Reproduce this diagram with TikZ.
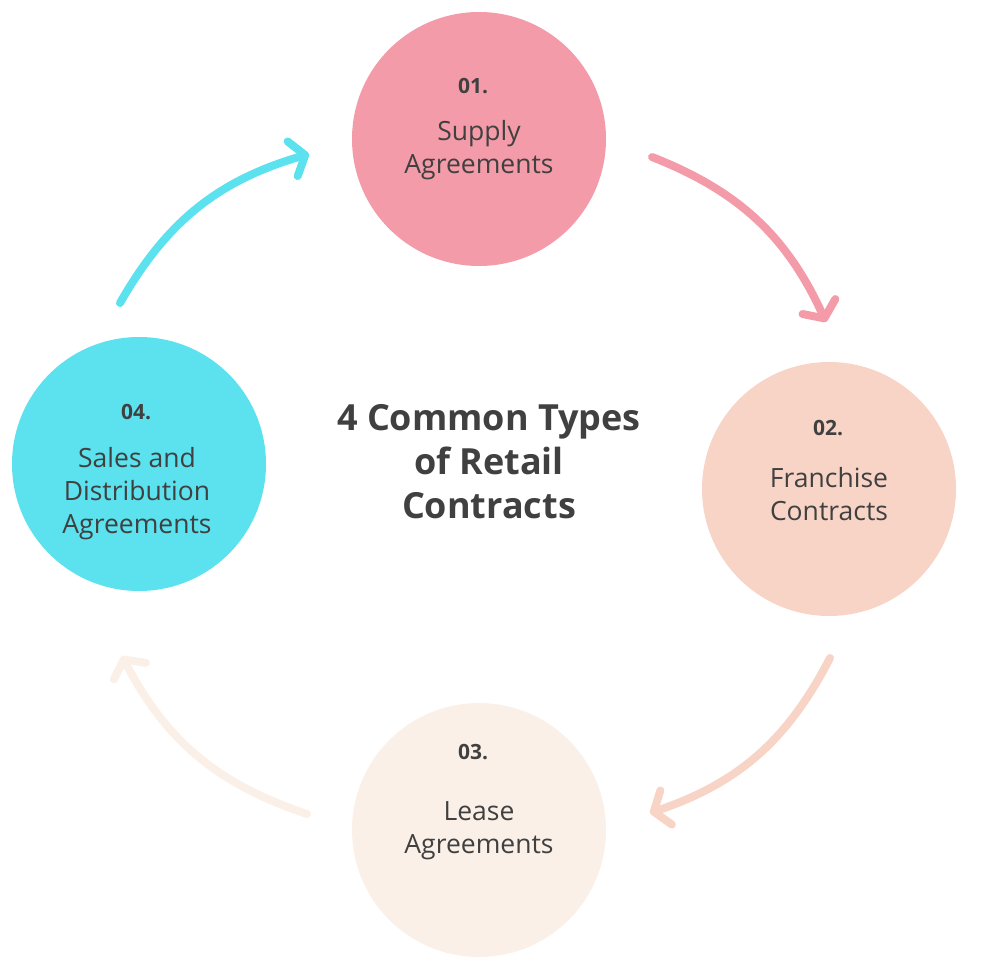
\documentclass[tikz,border=0pt]{standalone}
\usepackage{fontspec}
\setmainfont{Open Sans}
\usetikzlibrary{positioning,arrows.meta}
\definecolor{pinkc}{HTML}{F49BA9}
\definecolor{peachc}{HTML}{F8D4C7}
\definecolor{creamc}{HTML}{FAF0E8}
\definecolor{cyanc}{HTML}{5CE1EE}
\definecolor{txt}{HTML}{404040}
\begin{document}
\begin{tikzpicture}[x=1pt,y=-1pt,
  stage/.style={circle,minimum size=254pt,inner sep=0pt,text=txt,font=\fontsize{26.5}{33}\selectfont,align=center},
  flow/.style={line width=8pt,line cap=round,-{Straight Barb[length=13pt,width=36pt,round]}}]
\useasboundingbox (0,0) rectangle (982,963);

% etapes
\node[stage,fill=pinkc]  (supply) at (479,139) {};
\node[stage,fill=peachc] (franch) at (829,489) {};
\node[stage,fill=creamc] (lease)  at (479,830) {};
\node[stage,fill=cyanc]  (sales)  at (139,464) {};

\node[font=\bfseries\fontsize{21}{22}\selectfont,text=txt] (n1) at (473,86)  {01.};
\node[font=\bfseries\fontsize{21}{22}\selectfont,text=txt] (n2) at (828,428) {02.};
\node[font=\bfseries\fontsize{21}{22}\selectfont,text=txt] (n3) at (473,752) {03.};
\node[font=\bfseries\fontsize{21}{22}\selectfont,text=txt] (n4) at (136,412) {04.};

\node[stage,minimum size=0pt] (t1) at (479,150) {Supply\\Agreements};
\node[stage,minimum size=0pt] (t2) at (829,494) {Franchise\\Contracts};
\node[stage,minimum size=0pt] (t3) at (479,831) {Lease\\Agreements};
\node[stage,minimum size=0pt] (t4) at (137,494) {Sales and\\Distribution\\Agreements};

\node[font=\bfseries\fontsize{36}{44}\selectfont,text=txt,align=center] (title) at (489,462) {4 Common Types\\of Retail\\Contracts};

% fleches
\coordinate (a1) at (652,157); \coordinate (b1) at (826,322);
\coordinate (a2) at (830,658); \coordinate (b2) at (650,813);
\coordinate (a3) at (307,814); \coordinate (b3) at (122,656);
\coordinate (a4) at (120,303); \coordinate (b4) at (309,154);
\draw[flow,pinkc]  (a1) to[bend left=22] (b1);
\draw[flow,peachc] (a2) to[bend left=22] (b2);
\draw[flow,creamc] (a3) to[bend left=22] (b3);
\draw[flow,cyanc]  (a4) to[bend left=22] (b4);
\end{tikzpicture}
\end{document}
